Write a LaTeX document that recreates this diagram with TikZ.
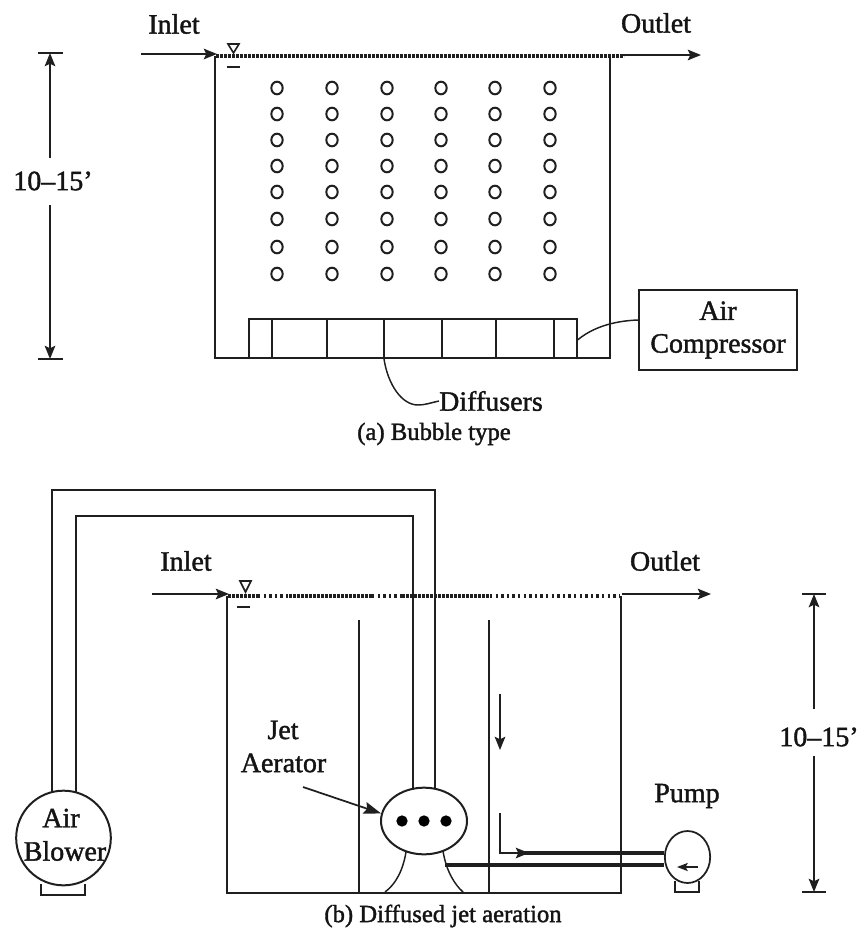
\documentclass[tikz,border=0pt]{standalone}
\usepackage{fontspec}
\setmainfont{Liberation Serif}
\usetikzlibrary{arrows.meta,shapes.geometric}
\tikzset{
 ln/.style={line width=1.5pt,black!88},
 thinln/.style={line width=1.1pt,black!88},
 bighead/.style={-{Stealth[length=10pt,width=8pt,inset=2pt]}},
 arr/.style={line width=1.2pt,black!88,bighead},
 surf/.style={line width=2.8pt,black!88,dash pattern=on 2.2pt off .8pt},
 surfd/.style={line width=2.6pt,black!88,dash pattern=on 1.8pt off 2.4pt},
 heavy/.style={execute at begin node={\special{pdf:code 2 Tr 0.3 w}}},
 lab/.style={inner sep=0pt,font=\fontsize{21}{23}\selectfont,text=black!92,heavy},
 captext/.style={inner sep=0pt,font=\fontsize{18.5}{20}\selectfont,text=black!92,heavy},
 bub/.style={draw=black!88,line width=1.5pt,ellipse,inner sep=0pt,minimum width=8.5pt,minimum height=9.5pt},
 dotb/.style={circle,fill=black,inner sep=0pt,minimum size=8.5pt},
}
\begin{document}
\begin{tikzpicture}[x=0.75pt,y=-0.75pt]
\useasboundingbox (0,0) rectangle (859,935);
% ---------- (a)
\node[lab] (inA) at (174,24) {Inlet};
\node[lab] (outA) at (656,23) {Outlet};
\coordinate (aTL) at (215,56);\coordinate (aTR) at (610,56);
\coordinate (aBL) at (215,358);\coordinate (aBR) at (610,358);
\coordinate (aS) at (141,54);\coordinate (aE) at (701,55);
\draw[ln] (aTL) -- (aBL) -- (aBR) -- (aTR);
\draw[arr] (aS) -- (217,54);
\draw[surf] (216,56) -- (624,56);
\draw[arr] (622,55) -- (aE);
\draw[ln,line width=1.2pt] (228,44) -- (239,44) -- (233.5,53) -- cycle;
\draw[ln,line width=1.3pt] (227,67) -- (240,67);
% bubbles
\foreach \x [count=\i] in {277,332,387,441,495,550}
 \foreach \y [count=\j] in {88,114,140,166,192,219,247,274}
  \node[bub] (b\i-\j) at (\x,\y) {};
% diffusers
\node[draw=black!88,line width=1.5pt,minimum width=246pt,minimum height=29.25pt,inner sep=0pt] (diff) at (412.5,338.5) {};
\foreach \x in {272,327,384,442,496,554} \draw[ln] (\x,319) -- (\x,358);
% dimension
\coordinate (dA1) at (50,53);\coordinate (dA2) at (50,359);
\coordinate (dA1g) at (50,158);\coordinate (dA2g) at (50,205);
\draw[arr] (dA1g) -- (dA1);
\draw[arr] (dA2g) -- (dA2);
\draw[ln,line width=1.2pt] (38,53) -- (63,53) (38,359) -- (63,359);
\node[lab] (dimA) at (53,181) {10–15'};
% compressor
\node[draw=black!88,line width=1.5pt,minimum width=118.5pt,minimum height=60pt,inner sep=0pt,align=center,lab,font=\fontsize{21}{24.5}\selectfont] (comp) at (718,330) {Air\\Compressor};
\draw[thinln] (diff.east |- 0,340) .. controls (592,328) and (612,321) .. (comp.west |- 0,320);
% diffusers label
\node[lab] (dl) at (491,401) {Diffusers};
\draw[thinln] (384,359) .. controls (388,385) and (402,405) .. (418,405) .. controls (425,405) and (430,403) .. (dl.west);
\node[captext] (capA) at (434,434) {(a) Bubble type};
% ---------- (b)
\node[lab] (inB) at (186,561) {Inlet};
\node[lab] (outB) at (665,561) {Outlet};
\coordinate (bTL) at (227,596);\coordinate (bTR) at (621,596);
\coordinate (bBL) at (227,893);\coordinate (bBR) at (621,893);
\draw[ln] (bTL) -- (bBL) -- (bBR) -- (bTR);
\draw[arr] (152,594) -- (229,594);
\draw[surf] (228,596) -- (258,596);
\draw[surfd] (258,596) -- (288,596);
\draw[surf] (289,596) -- (372,596);
\draw[surfd] (372,596) -- (402,596);
\draw[surf] (402,596) -- (490,596);
\draw[surfd] (490,596) -- (620,596);
\draw[arr] (622,594) -- (711,594);
\draw[ln,line width=1.2pt] (240,581) -- (251,581) -- (245.5,592) -- cycle;
\draw[ln,line width=1.3pt] (237,607) -- (250,607);
% baffles
\coordinate (bf1) at (359,620);\coordinate (bf2) at (489,620);
\draw[ln] (bf1) -- (359,893);
\draw[ln] (bf2) -- (489,893);
% blower
\node[circle,draw=black!88,line width=1.5pt,minimum size=71pt,inner sep=0pt] (blower) at (63.5,838) {};
\node[lab] (bt1) at (61,818) {Air};
\node[lab] (bt2) at (65,851) {Blower};
\draw[ln] (41,884) -- (41,895) -- (85,895) -- (85,884);
% jet
\node[ellipse,draw=black!88,line width=1.5pt,minimum width=64.5pt,minimum height=50pt,inner sep=0pt] (jet) at (424,821) {};
\node[dotb] (d1) at (402,821) {};
\node[dotb] (d2) at (424,821) {};
\node[dotb] (d3) at (446,821) {};
\draw[thinln] (406,852) .. controls (403,870) and (396,884) .. (385,892);
\draw[thinln] (443,851) .. controls (446,870) and (454,884) .. (463,892);
% pipes
\draw[ln] (52,792) -- (52,490) -- (435,490) -- (435,789);
\draw[ln] (76,792) -- (76,516) -- (413,516) -- (413,790);
% labels and leader
\node[lab] (j1) at (283,730) {Jet};
\node[lab] (j2) at (283.5,763) {Aerator};
\coordinate (jl) at (303,787);
\draw[line width=1.3pt,black!88,-{Stealth[length=13pt,width=9pt,inset=2pt]}] (jl) -- (jet.170);
% pump
\node[lab] (pl) at (687,796) {Pump};
\node[ellipse,draw=black!88,line width=1.3pt,minimum width=34pt,minimum height=39pt,inner sep=0pt] (pump) at (687.5,857) {};
\draw[ln,line width=1.2pt] (675,881) -- (675,892) -- (699,892) -- (699,881);
\draw[line width=1.3pt,black!88,-{Stealth[length=8pt,width=6pt,inset=1.5pt]}] (698,867) -- (677,867);
\draw[line width=2.4pt,black!88] (pump.west |- 0,865) -- (445,865);
\draw[line width=2.4pt,black!88] (pump.west |- 0,853) -- (520,853);
\draw[arr] (500,813) -- (500,853) -- (529,853);
\draw[arr] (500,694) -- (500,750);
% dim b
\coordinate (dB1) at (814,594);\coordinate (dB2) at (814,892);
\coordinate (dB1g) at (814,709);\coordinate (dB2g) at (814,756);
\draw[arr] (dB1g) -- (dB1);
\draw[arr] (dB2g) -- (dB2);
\draw[ln,line width=1.2pt] (802,594) -- (826,594) (802,892) -- (826,892);
\node[lab] (dimB) at (819,737) {10–15'};
\node[captext] (capB) at (443,916) {(b) Diffused jet aeration};
\end{tikzpicture}
\end{document}
